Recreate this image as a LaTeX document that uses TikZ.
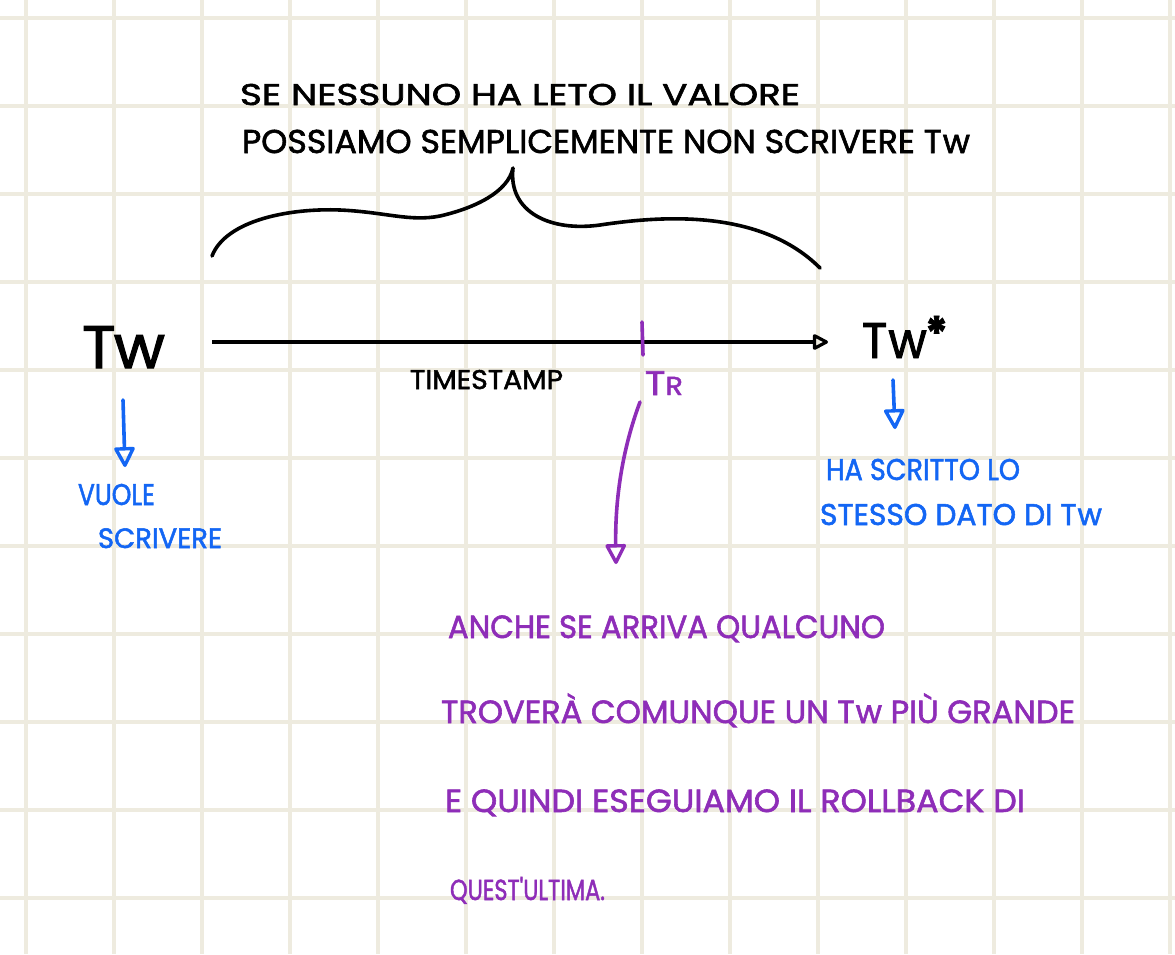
\documentclass[tikz,border=0pt]{standalone}
\usepackage{fontspec}
\usepackage{graphicx}
\setmainfont{Poppins}
\newfontfamily\handfont{Poppins}[FakeBold=1.8]
\usetikzlibrary{arrows.meta}
\definecolor{gridc}{HTML}{EEEBDF}
\definecolor{inkblue}{HTML}{1366F4}
\definecolor{inkpurple}{HTML}{8E2DB8}
\newcommand{\fitto}[2]{\resizebox{#1}{\height}{#2}}
\tikzset{
  hand/.style={anchor=base west, inner sep=0pt, outer sep=0pt, font=\handfont},
  ink/.style={line width=3.6pt, line cap=round, line join=round},
  opentip/.style={-{Triangle[open,round,length=22pt,width=22pt,line width=3.4pt]}},
}
\begin{document}
\begin{tikzpicture}[x=1pt,y=-1pt]
\useasboundingbox (0,0) rectangle (1175,954);
\fill[white] (0,0) rectangle (1175,954);
% grid
\foreach \k in {0,...,13} \draw[gridc, line width=4pt] ({26+88*\k},0) -- ({26+88*\k},954);
\foreach \k in {0,...,10} \draw[gridc, line width=4pt] (0,{17.5+88*\k}) -- (1175,{17.5+88*\k});

% top text
\node[hand] (t1) at (240,105) {\fitto{560pt}{\fontsize{30}{30}\selectfont SE NESSUNO HA LETO IL VALORE}};
\node[hand] (t2) at (242,153) {\fitto{728pt}{\fontsize{33}{33}\selectfont POSSIAMO SEMPLICEMENTE NON SCRIVERE T\kern1pt w}};

% brace
\coordinate (bl) at (212,256);
\coordinate (bt) at (513,168);
\coordinate (br) at (820,268);
\draw[ink] (bl) .. controls (226,220) and (290,208) .. (340,210)
  .. controls (385,212) and (410,222) .. (440,216)
  .. controls (475,208) and (508,192) .. (bt)
  .. controls (508,212) and (550,232) .. (600,225)
  .. controls (660,216) and (760,208) .. (br);

% timeline
\node[hand] (tw) at (82,368) {\fitto{83pt}{\fontsize{60}{60}\selectfont T\kern-2pt w}};
\coordinate (ls) at (212,342);
\coordinate (le) at (834,342);
\draw[line width=3.6pt, -{Triangle[open,round,length=17pt,width=17pt,line width=3.2pt,sep=6pt]}] (ls) -- (le);
\node[hand] (ts) at (410,389) {\fitto{153pt}{\fontsize{27}{27}\selectfont TIMESTAMP}};
\node[hand] (tws) at (862,358) {\fitto{86pt}{\fontsize{50}{50}\selectfont T\kern1pt w\kern-2pt\raisebox{8pt}{\fontsize{46}{46}\selectfont\bfseries *}}};

% T_R
\coordinate (tk1) at (642,322);
\coordinate (tk2) at (643,355);
\draw[inkpurple, ink] (tk1) -- (tk2);
\node[hand, text=inkpurple] (tr) at (645,395) {\fitto{38pt}{\fontsize{34}{34}\selectfont T\fontsize{26}{26}\selectfont R}};
\coordinate (pa1) at (640,402);
\coordinate (pa2) at (616,564);
\draw[inkpurple, ink, opentip] (pa1) .. controls (622,450) and (615,500) .. (pa2);

% left blue
\coordinate (la1) at (123,400);
\coordinate (la2) at (125,467);
\draw[inkblue, ink, opentip] (la1) -- (la2);
\node[hand, text=inkblue] (v1) at (78,505) {\fitto{77pt}{\fontsize{30}{30}\selectfont VUOLE}};
\node[hand, text=inkblue] (v2) at (98,548) {\fitto{124pt}{\fontsize{28}{28}\selectfont SCRIVERE}};

% right blue
\coordinate (ra1) at (893,380);
\coordinate (ra2) at (895,429);
\draw[inkblue, ink, opentip] (ra1) -- (ra2);
\node[hand, text=inkblue] (h1) at (826,480) {\fitto{194pt}{\fontsize{30}{30}\selectfont HA SCRITTO LO}};
\node[hand, text=inkblue] (h2) at (820,525) {\fitto{282pt}{\fontsize{30}{30}\selectfont STESSO DATO DI T\kern1pt w}};

% purple text
\node[hand, text=inkpurple] (p1) at (448,638) {\fitto{437pt}{\fontsize{32}{32}\selectfont ANCHE SE ARRIVA QUALCUNO}};
\node[hand, text=inkpurple] (p2) at (441,723) {\fitto{634pt}{\fontsize{32}{32}\selectfont TROVERÀ COMUNQUE UN T\kern1pt w PIÙ GRANDE}};
\node[hand, text=inkpurple] (p3) at (445,812) {\fitto{580pt}{\fontsize{32}{32}\selectfont E QUINDI ESEGUIAMO IL ROLLBACK DI}};
\node[hand, text=inkpurple] (p4) at (450,900) {\fitto{155pt}{\fontsize{29}{29}\selectfont QUEST'ULTIMA.}};
\end{tikzpicture}
\end{document}
